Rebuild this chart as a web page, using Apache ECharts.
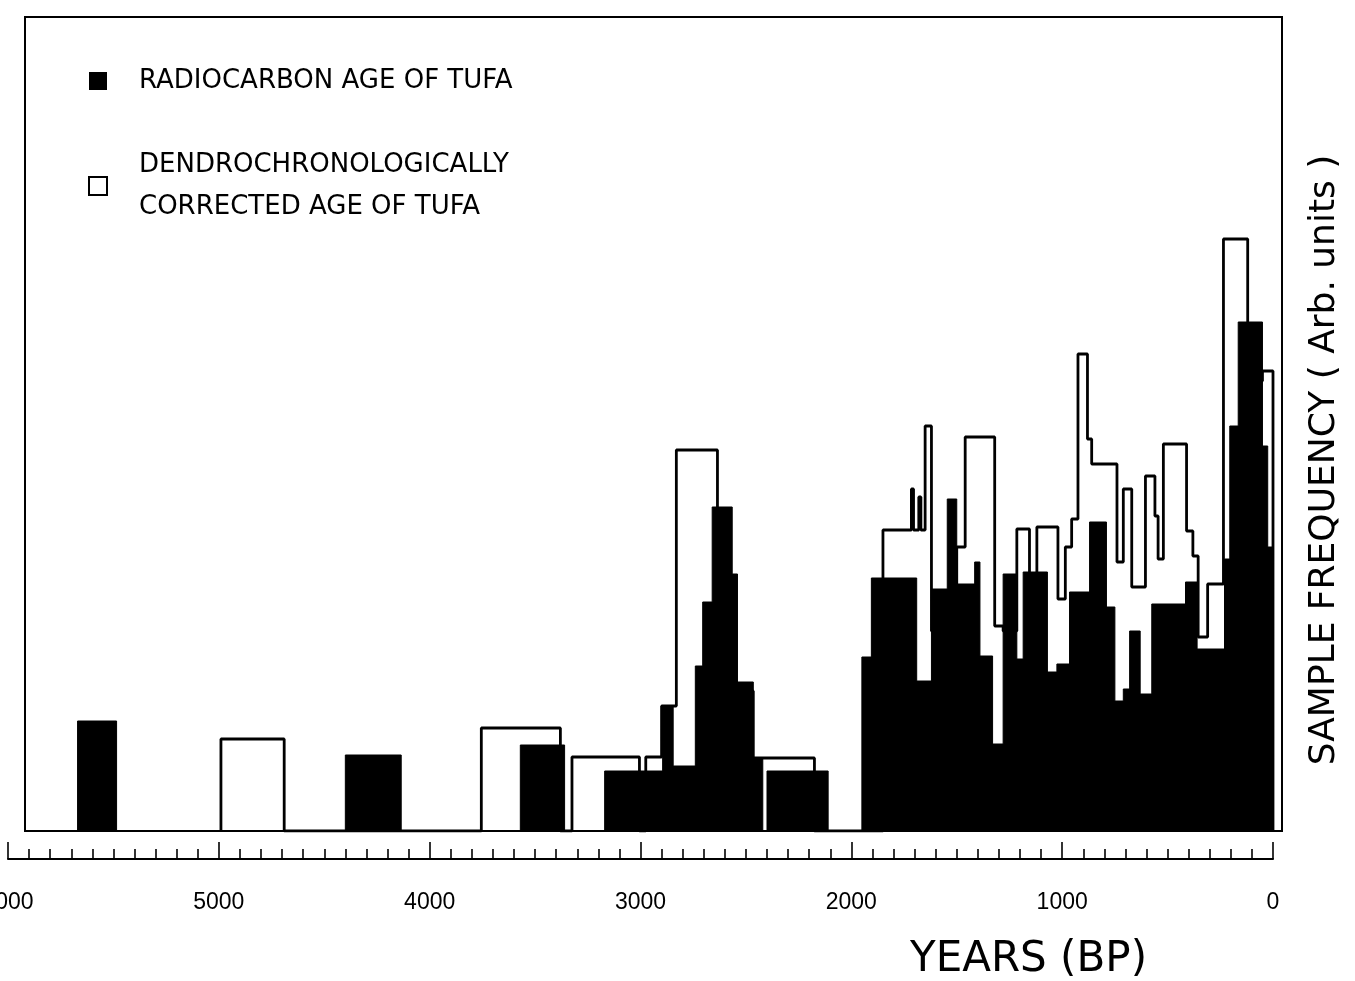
<!DOCTYPE html>
<html>
<head>
<meta charset="utf-8">
<script src="https://cdn.jsdelivr.net/npm/echarts@6/dist/echarts.min.js"></script>
<style>
  html, body { margin: 0; padding: 0; background: #fff; }
  #chart { width: 1355px; height: 981px; }
</style>
</head>
<body>
<div id="chart"></div>
<script>
// ---- data (years BP, arbitrary frequency units) ----
const yearTicks = [6000, 5000, 4000, 3000, 2000, 1000, 0];

const radiocarbonName = 'RADIOCARBON AGE OF TUFA';
const radiocarbonEdges = [5670, 5485, 4400, 4135, 3570, 3360, 3170, 2895, 2845, 2740,
  2705, 2660, 2565, 2540, 2465, 2420, 2400, 2110, 1950, 1905,
  1690, 1620, 1545, 1500, 1415, 1390, 1330, 1280, 1215, 1185,
  1070, 1025, 965, 870, 790, 750, 710, 680, 630, 575,
  415, 360, 230, 205, 165, 50, 25, 0];
const radiocarbonHeights = [11.0, 0, 7.6, 0, 8.6, 0, 6.0, 12.5, 6.5, 16.5,
  22.9, 32.4, 25.7, 14.9, 7.2, 0, 6.0, 0, 17.4, 25.3,
  15.0, 24.2, 33.2, 24.7, 26.9, 17.5, 8.7, 25.7, 17.2, 25.9,
  15.9, 16.7, 23.9, 30.9, 22.4, 13.0, 14.2, 20.0, 13.7, 22.7,
  24.9, 18.2, 27.2, 40.5, 50.9, 38.5, 28.4];

const dendroName = 'DENDROCHRONOLOGICALLY\nCORRECTED AGE OF TUFA';
const dendroEdges = [4990, 4690, 3755, 3380, 3325, 3005, 2975, 2900, 2830, 2635,
  2465, 2175, 1850, 1715, 1705, 1680, 1670, 1650, 1620, 1500,
  1460, 1320, 1280, 1215, 1155, 1120, 1020, 985, 955, 925,
  880, 860, 740, 710, 670, 605, 560, 545, 520, 410,
  380, 355, 310, 235, 120, 50, 0];
const dendroHeights = [9.2, 0, 10.3, 0, 7.4, 0, 7.4, 12.5, 38.1, 14,
  7.3, 0, 30.1, 34.2, 30.1, 33.4, 30.1, 40.5, 20, 28.4,
  39.4, 20.5, 20, 30.2, 25, 30.4, 23.2, 28.4, 31.2, 47.7,
  39.2, 36.7, 26.9, 34.2, 24.4, 35.5, 31.5, 27.2, 38.7, 30.0,
  27.5, 19.4, 24.7, 59.2, 45, 46];

const yMax = 81.4;

// histogram bins -> step-line points (value change at each bin edge)
function stepData(edges, heights) {
  const d = [[edges[0], 0]];
  for (let i = 0; i < heights.length; i++) d.push([edges[i], heights[i]]);
  d.push([edges[edges.length - 1], 0]);
  return d;
}

const chart = echarts.init(document.getElementById('chart'), null, { renderer: 'canvas' });
chart.setOption({
  animation: false,
  backgroundColor: '#ffffff',
  legend: {
    orient: 'vertical',
    left: 88,
    top: 60,
    padding: 0,
    itemWidth: 18,
    itemHeight: 18,
    itemGap: 42,
    selectedMode: false,
    textStyle: { fontSize: 26, fontFamily: 'DejaVu Sans', color: '#000', lineHeight: 42, padding: [0, 0, 0, 27] },
    data: [
      { name: radiocarbonName, icon: 'rect', itemStyle: { color: '#000', borderWidth: 0 } },
      { name: dendroName, icon: 'rect', itemStyle: { color: '#fff', borderColor: '#000', borderWidth: 2 } }
    ]
  },
  grid: [
    { left: 8, right: 82, top: 17, bottom: 150, show: false, containLabel: false, outerBoundsMode: 'none' },
    { left: 25, right: 73, top: 17, bottom: 150, show: true, borderColor: '#000', borderWidth: 2,
      backgroundColor: 'transparent', containLabel: false, outerBoundsMode: 'none' }
  ],
  xAxis: [
    {
      type: 'value', gridIndex: 0,
      min: yearTicks[yearTicks.length - 1], max: yearTicks[0], interval: 1000,
      inverse: true, offset: 28,
      axisLine: { show: true, onZero: false, lineStyle: { color: '#000', width: 2 } },
      axisTick: { show: true, inside: true, length: 17, lineStyle: { color: '#000', width: 1.6 } },
      minorTick: { show: true, splitNumber: 10, length: 10, lineStyle: { color: '#000', width: 1.6 } },
      splitLine: { show: false },
      minorSplitLine: { show: false },
      axisLabel: { margin: 32, fontSize: 23, color: '#000', fontFamily: 'Liberation Sans',
        showMinLabel: true, showMaxLabel: true, formatter: (v) => String(v) },
      name: 'YEARS (BP)', nameLocation: 'middle', nameGap: 80,
      nameTextStyle: { fontSize: 42, fontFamily: 'DejaVu Sans', color: '#000', padding: [0, 0, 0, 776] }
    },
    { type: 'value', gridIndex: 1, show: false, min: 0, max: 1 }
  ],
  yAxis: [
    {
      type: 'value', gridIndex: 0, min: 0, max: yMax, position: 'right',
      axisLine: { show: false }, axisTick: { show: false }, axisLabel: { show: false }, splitLine: { show: false },
      name: 'SAMPLE FREQUENCY ( Arb. units )', nameLocation: 'middle', nameRotate: 90, nameGap: 34,
      nameTextStyle: { fontSize: 36, fontFamily: 'DejaVu Sans', color: '#000', padding: [0, 72, 0, 0] }
    },
    { type: 'value', gridIndex: 1, show: false, min: 0, max: 1 }
  ],
  series: [
    {
      name: radiocarbonName, type: 'line', xAxisIndex: 0, yAxisIndex: 0,
      data: stepData(radiocarbonEdges, radiocarbonHeights),
      step: 'end', symbol: 'none', silent: true,
      lineStyle: { color: '#000', width: 1 },
      itemStyle: { color: '#000' },
      areaStyle: { color: '#000', opacity: 1 }
    },
    {
      name: dendroName, type: 'line', xAxisIndex: 0, yAxisIndex: 0,
      data: stepData(dendroEdges, dendroHeights),
      step: 'end', symbol: 'none', silent: true,
      lineStyle: { color: '#000', width: 2.8 },
      itemStyle: { color: '#fff', borderColor: '#000' }
    }
  ]
});
</script>
</body>
</html>
